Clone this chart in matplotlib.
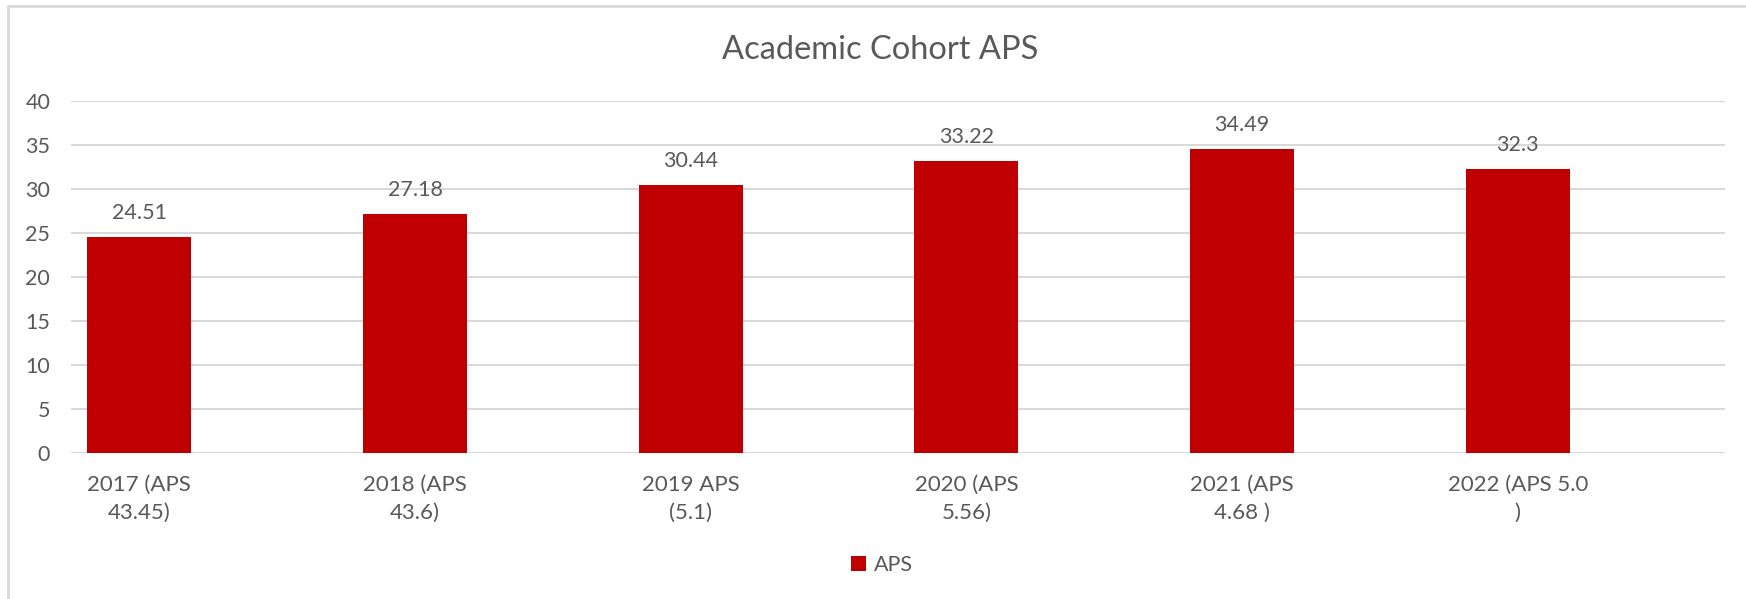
import numpy as np
import matplotlib.pyplot as plt
from matplotlib.patches import Rectangle

# --- data
categories = ["2017 (APS\n43.45)", "2018 (APS\n43.6)", "2019 APS\n(5.1)",
              "2020 (APS\n5.56)", "2021 (APS\n4.68 )", "2022 (APS 5.0\n)"]
aps_values = [24.51, 27.18, 30.44, 33.22, 34.49, 32.3]
value_labels = ["24.51", "27.18", "30.44", "33.22", "34.49", "32.3"]
yticks = [0, 5, 10, 15, 20, 25, 30, 35, 40]

# --- style
plt.rcParams['font.family'] = ['Lato', 'DejaVu Sans']
bar_color = "#C00000"
text_color = "#595959"
grid_color = "#D9D9D9"

fig = plt.figure(figsize=(17.46, 5.99), dpi=100)
ax = fig.add_axes([71/1746, 1-453/599, (1725-71)/1746, (453-101)/599])

# --- bars (shifted left inside each category, as in the original)
x = np.arange(len(categories)) - 0.252
bars = ax.bar(x, aps_values, width=0.377, color=bar_color, label="APS", zorder=3)

for xi, v, lab in zip(x, aps_values, value_labels):
    ax.annotate(lab, (xi, v), xytext=(0, 24), textcoords="offset pixels",
                ha="center", va="center", fontsize=15.5, color=text_color)

# --- axes
ax.set_xlim(-0.5, len(categories)-0.5)
ax.set_ylim(0, 40)
ax.set_yticks(yticks)
ax.set_xticks(x)
ax.set_xticklabels(categories, fontsize=16, color=text_color, linespacing=1.45)
ax.tick_params(axis="y", length=0, pad=15, labelsize=15.5, labelcolor=text_color)
ax.tick_params(axis="x", length=0, pad=16)
ax.yaxis.grid(True, color=grid_color, lw=1.5, zorder=0)
ax.set_axisbelow(True)
for s in ax.spines.values():
    s.set_visible(False)

# --- title, legend, frame
fig.text(880/1746, 1-50/599, "Academic Cohort APS", ha="center", va="center",
         fontsize=23.5, color=text_color)
fig.legend(handles=[bars], loc="center", bbox_to_anchor=(882/1746, 1-565/599),
           frameon=False, fontsize=15.5, labelcolor=text_color,
           handlelength=0.7, handleheight=0.7, handletextpad=0.4)
fig.patches.append(Rectangle((8/1746, -0.1), 1.2, 1.1-6/599, transform=fig.transFigure,
                             fill=False, edgecolor=grid_color, lw=2))

fig.savefig("out.png", dpi=100)
